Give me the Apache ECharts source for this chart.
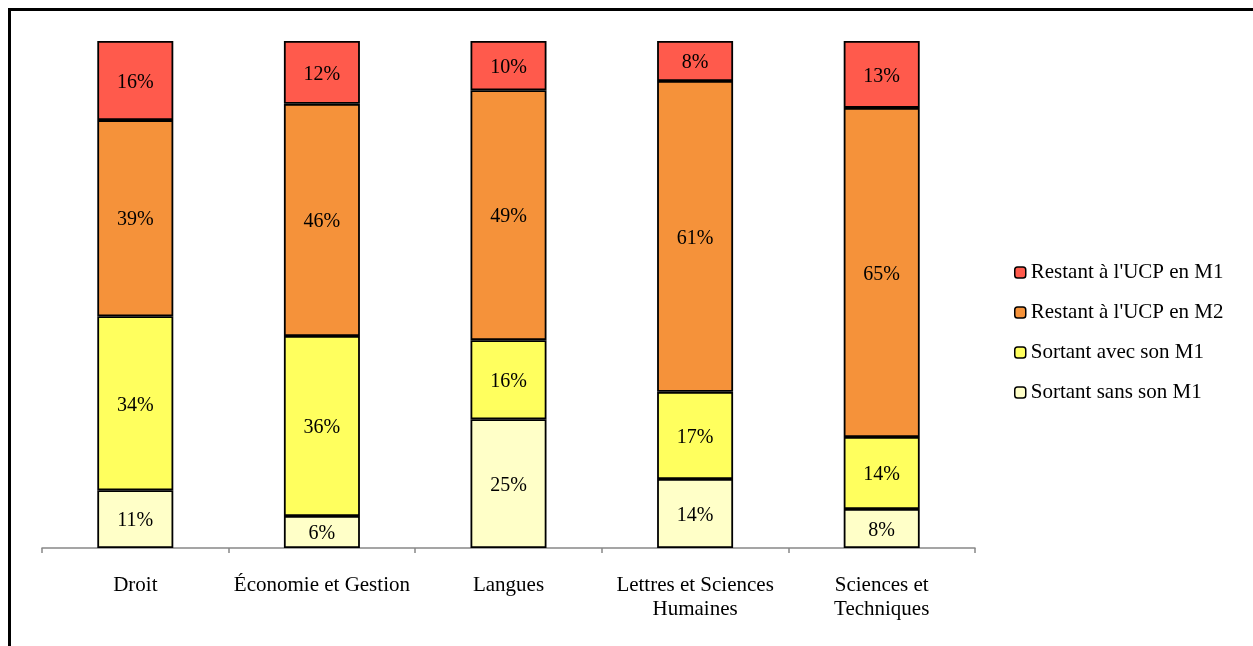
<!DOCTYPE html>
<html>
<head>
<meta charset="utf-8">
<script src="https://cdn.jsdelivr.net/npm/echarts@6/dist/echarts.min.js"></script>
<style>
html,body{margin:0;padding:0;background:#fff;}
#c{width:1253px;height:646px;}
</style>
</head>
<body>
<div id="c"></div>
<script>
const categories = ['Droit', 'Économie et Gestion', 'Langues', 'Lettres et Sciences\nHumaines', 'Sciences et\nTechniques'];
const sortantSans = [11.4, 6.3, 25.4, 13.6, 7.7];
const sortantAvec = [34.3, 35.5, 15.6, 17.2, 14.2];
const restantM2 = [38.7, 45.8, 49.3, 61.3, 64.9];
const restantM1 = [15.6, 12.4, 9.7, 7.9, 13.2];

const seriesNames = ['Sortant sans son M1', 'Sortant avec son M1', "Restant à l'UCP en M2", "Restant à l'UCP en M1"];
const seriesColors = ['#FFFFC8', '#FFFF5E', '#F5923A', '#FF5A4C'];
const seriesData = [sortantSans, sortantAvec, restantM2, restantM1];

const font = "'Liberation Serif', 'Times New Roman', serif";

const chart = echarts.init(document.getElementById('c'));
chart.setOption({
  animation: false,
  backgroundColor: '#fff',
  textStyle: { fontFamily: font },
  graphic: [{
    type: 'rect',
    shape: { x: 9.5, y: 9.5, width: 1400, height: 900 },
    style: { fill: 'none', stroke: '#000', lineWidth: 3 },
    silent: true
  }],
  grid: { left: 42, right: 278, top: 41, bottom: 98, containLabel: false },
  legend: {
    orient: 'vertical',
    left: 1014,
    top: 262,
    padding: 0,
    itemWidth: 11,
    itemHeight: 11,
    itemGap: 19,
    data: ["Restant à l'UCP en M1", "Restant à l'UCP en M2", 'Sortant avec son M1', 'Sortant sans son M1'],
    textStyle: { fontFamily: font, fontSize: 21, color: '#000' },
    itemStyle: { borderColor: '#000', borderWidth: 1.5 }
  },
  xAxis: {
    type: 'category',
    data: categories,
    axisLine: { lineStyle: { color: '#888', width: 1.5 } },
    axisTick: { show: true, length: 5, lineStyle: { color: '#888', width: 1.5 } },
    axisLabel: { color: '#000', fontFamily: font, fontSize: 21, lineHeight: 24, margin: 25, interval: 0 }
  },
  yAxis: {
    type: 'value',
    min: 0, max: 100,
    show: false,
    splitLine: { show: false }
  },
  series: seriesNames.map((n, i) => ({
    name: n,
    type: 'bar',
    stack: 'total',
    barWidth: 76,
    data: seriesData[i],
    itemStyle: { color: seriesColors[i], borderColor: '#000', borderWidth: 1.8 },
    label: {
      show: true,
      position: 'inside',
      offset: [0, 2],
      formatter: p => Math.round(p.value) + '%',
      color: '#000',
      fontFamily: font,
      fontSize: 20
    }
  }))
});
</script>
</body>
</html>
